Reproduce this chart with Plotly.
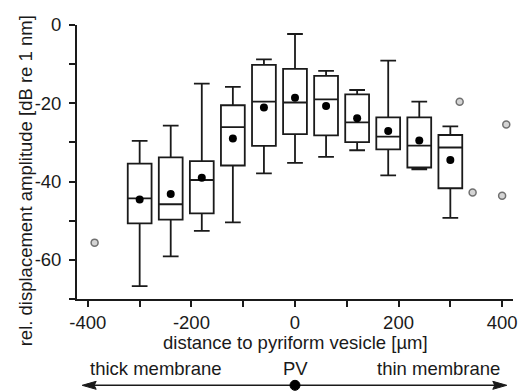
import plotly.graph_objects as go

# Distance of each measuring position to the pyriform vesicle [µm]
positions = [-300, -240, -180, -120, -60, 0, 60, 120, 180, 240, 300]

# Box statistics of the relative displacement amplitude [dB re 1 nm]
upper_whisker = [-29.6, -25.7, -15.0, -15.8, -8.8, -2.3, -11.7, -16.6, -9.1, -19.6, -25.9]
q3 = [-35.4, -33.8, -34.8, -20.5, -10.2, -11.2, -13.0, -17.7, -23.6, -23.6, -28.1]
medians = [-44.3, -45.8, -39.6, -26.1, -19.6, -19.8, -19.0, -24.9, -28.5, -30.8, -31.3]
means = [-44.6, -43.2, -39.0, -29.0, -21.1, -18.6, -20.7, -23.8, -27.1, -29.5, -34.5]
q1 = [-50.7, -49.7, -48.1, -35.9, -30.9, -27.9, -28.2, -29.9, -31.8, -36.4, -41.7]
lower_whisker = [-66.7, -59.1, -52.6, -50.4, -37.9, -35.2, -33.7, -32.0, -38.4, -36.9, -49.3]

# Single measurements outside the grouped positions
single_x = [-387, 318, 343, 400, 408]
single_y = [-55.6, -19.6, -42.8, -43.6, -25.4]

# Tick labels (plain hyphen as minus sign)
x_tickvals = [-400, -200, 0, 200, 400]
x_ticktext = ["-400", "-200", "0", "200", "400"]
y_tickvals = [-60, -40, -20, 0]
y_ticktext = ["-60", "-40", "-20", "0"]

X_RANGE = [-421, 421]
Y_RANGE = [-70, 0]
FONT = "Liberation Sans, Arial, sans-serif"
FS = 18.5
INK = "#1a1a1a"


def xpaper(x):
    return (x - X_RANGE[0]) / (X_RANGE[1] - X_RANGE[0])


fig = go.Figure()

fig.add_trace(go.Box(
    x=positions,
    q1=q1, median=medians, q3=q3,
    lowerfence=lower_whisker, upperfence=upper_whisker,
    width=46, whiskerwidth=0.66,
    fillcolor="white",
    line=dict(color=INK, width=1.8),
    boxpoints=False,
    hoverinfo="skip",
))

fig.add_trace(go.Scatter(
    x=positions, y=means, mode="markers",
    marker=dict(color="black", size=8),
    cliponaxis=False,
))

fig.add_trace(go.Scatter(
    x=single_x, y=single_y, mode="markers",
    marker=dict(color="#d4d4d4", size=7, line=dict(color="#707070", width=1.5)),
    cliponaxis=False,
))

axis_common = dict(
    showgrid=False, zeroline=False,
    showline=True, linecolor=INK, linewidth=1.8,
    ticks="outside", ticklen=6, tickwidth=1.6, tickcolor=INK,
    tickfont=dict(family=FONT, size=FS, color=INK),
)

fig.update_xaxes(
    range=X_RANGE, tickvals=x_tickvals, ticktext=x_ticktext,
    minor=dict(dtick=100, tick0=0, ticks="outside", ticklen=6, tickwidth=1.6, tickcolor=INK),
    **axis_common,
)
fig.update_yaxes(
    range=Y_RANGE, tickvals=y_tickvals, ticktext=y_ticktext,
    minor=dict(dtick=10, tick0=0, ticks="outside", ticklen=6, tickwidth=1.6, tickcolor=INK),
    ticklabelstandoff=4,
    **axis_common,
)

annotations = [
    dict(text="rel. displacement amplitude [dB re 1 nm]", xref="paper", yref="paper",
         x=-0.119, y=0.43, textangle=-90, showarrow=False,
         xanchor="center", yanchor="middle"),
    dict(text="distance to pyriform vesicle [µm]", xref="paper", yref="paper",
         x=xpaper(0), y=-0.158, showarrow=False, xanchor="center", yanchor="middle"),
    dict(text="thick membrane", xref="paper", yref="paper",
         x=xpaper(-268), y=-0.255, showarrow=False, xanchor="center", yanchor="middle"),
    dict(text="PV", xref="paper", yref="paper",
         x=xpaper(0), y=-0.255, showarrow=False, xanchor="center", yanchor="middle"),
    dict(text="thin membrane", xref="paper", yref="paper",
         x=xpaper(277), y=-0.255, showarrow=False, xanchor="center", yanchor="middle"),
]
for a in annotations:
    a["font"] = dict(family=FONT, size=FS, color=INK)

ARROW_Y = -0.315
left_tip, right_tip = xpaper(-411), xpaper(409)
shapes = [
    dict(type="line", xref="paper", yref="paper", x0=left_tip + 0.01, x1=right_tip - 0.01,
         y0=ARROW_Y, y1=ARROW_Y, line=dict(color=INK, width=1.6)),
    dict(type="path", xref="paper", yref="paper", xsizemode="pixel", ysizemode="pixel",
         xanchor=left_tip, yanchor=ARROW_Y, path="M0,0 L14,4 L12,0 L14,-4 Z",
         fillcolor=INK, line=dict(color=INK, width=1)),
    dict(type="path", xref="paper", yref="paper", xsizemode="pixel", ysizemode="pixel",
         xanchor=right_tip, yanchor=ARROW_Y, path="M0,0 L-14,4 L-12,0 L-14,-4 Z",
         fillcolor=INK, line=dict(color=INK, width=1)),
    dict(type="circle", xref="paper", yref="paper", xsizemode="pixel", ysizemode="pixel",
         xanchor=xpaper(0), yanchor=ARROW_Y, x0=-5, x1=5, y0=-5, y1=5,
         fillcolor="black", line=dict(color="black", width=1)),
]

fig.update_layout(
    width=528, height=391,
    margin=dict(l=77, r=11, t=25, b=92),
    paper_bgcolor="white", plot_bgcolor="white",
    showlegend=False,
    font=dict(family=FONT, size=FS, color=INK),
    annotations=annotations,
    shapes=shapes,
)

fig.write_html("out.html")
